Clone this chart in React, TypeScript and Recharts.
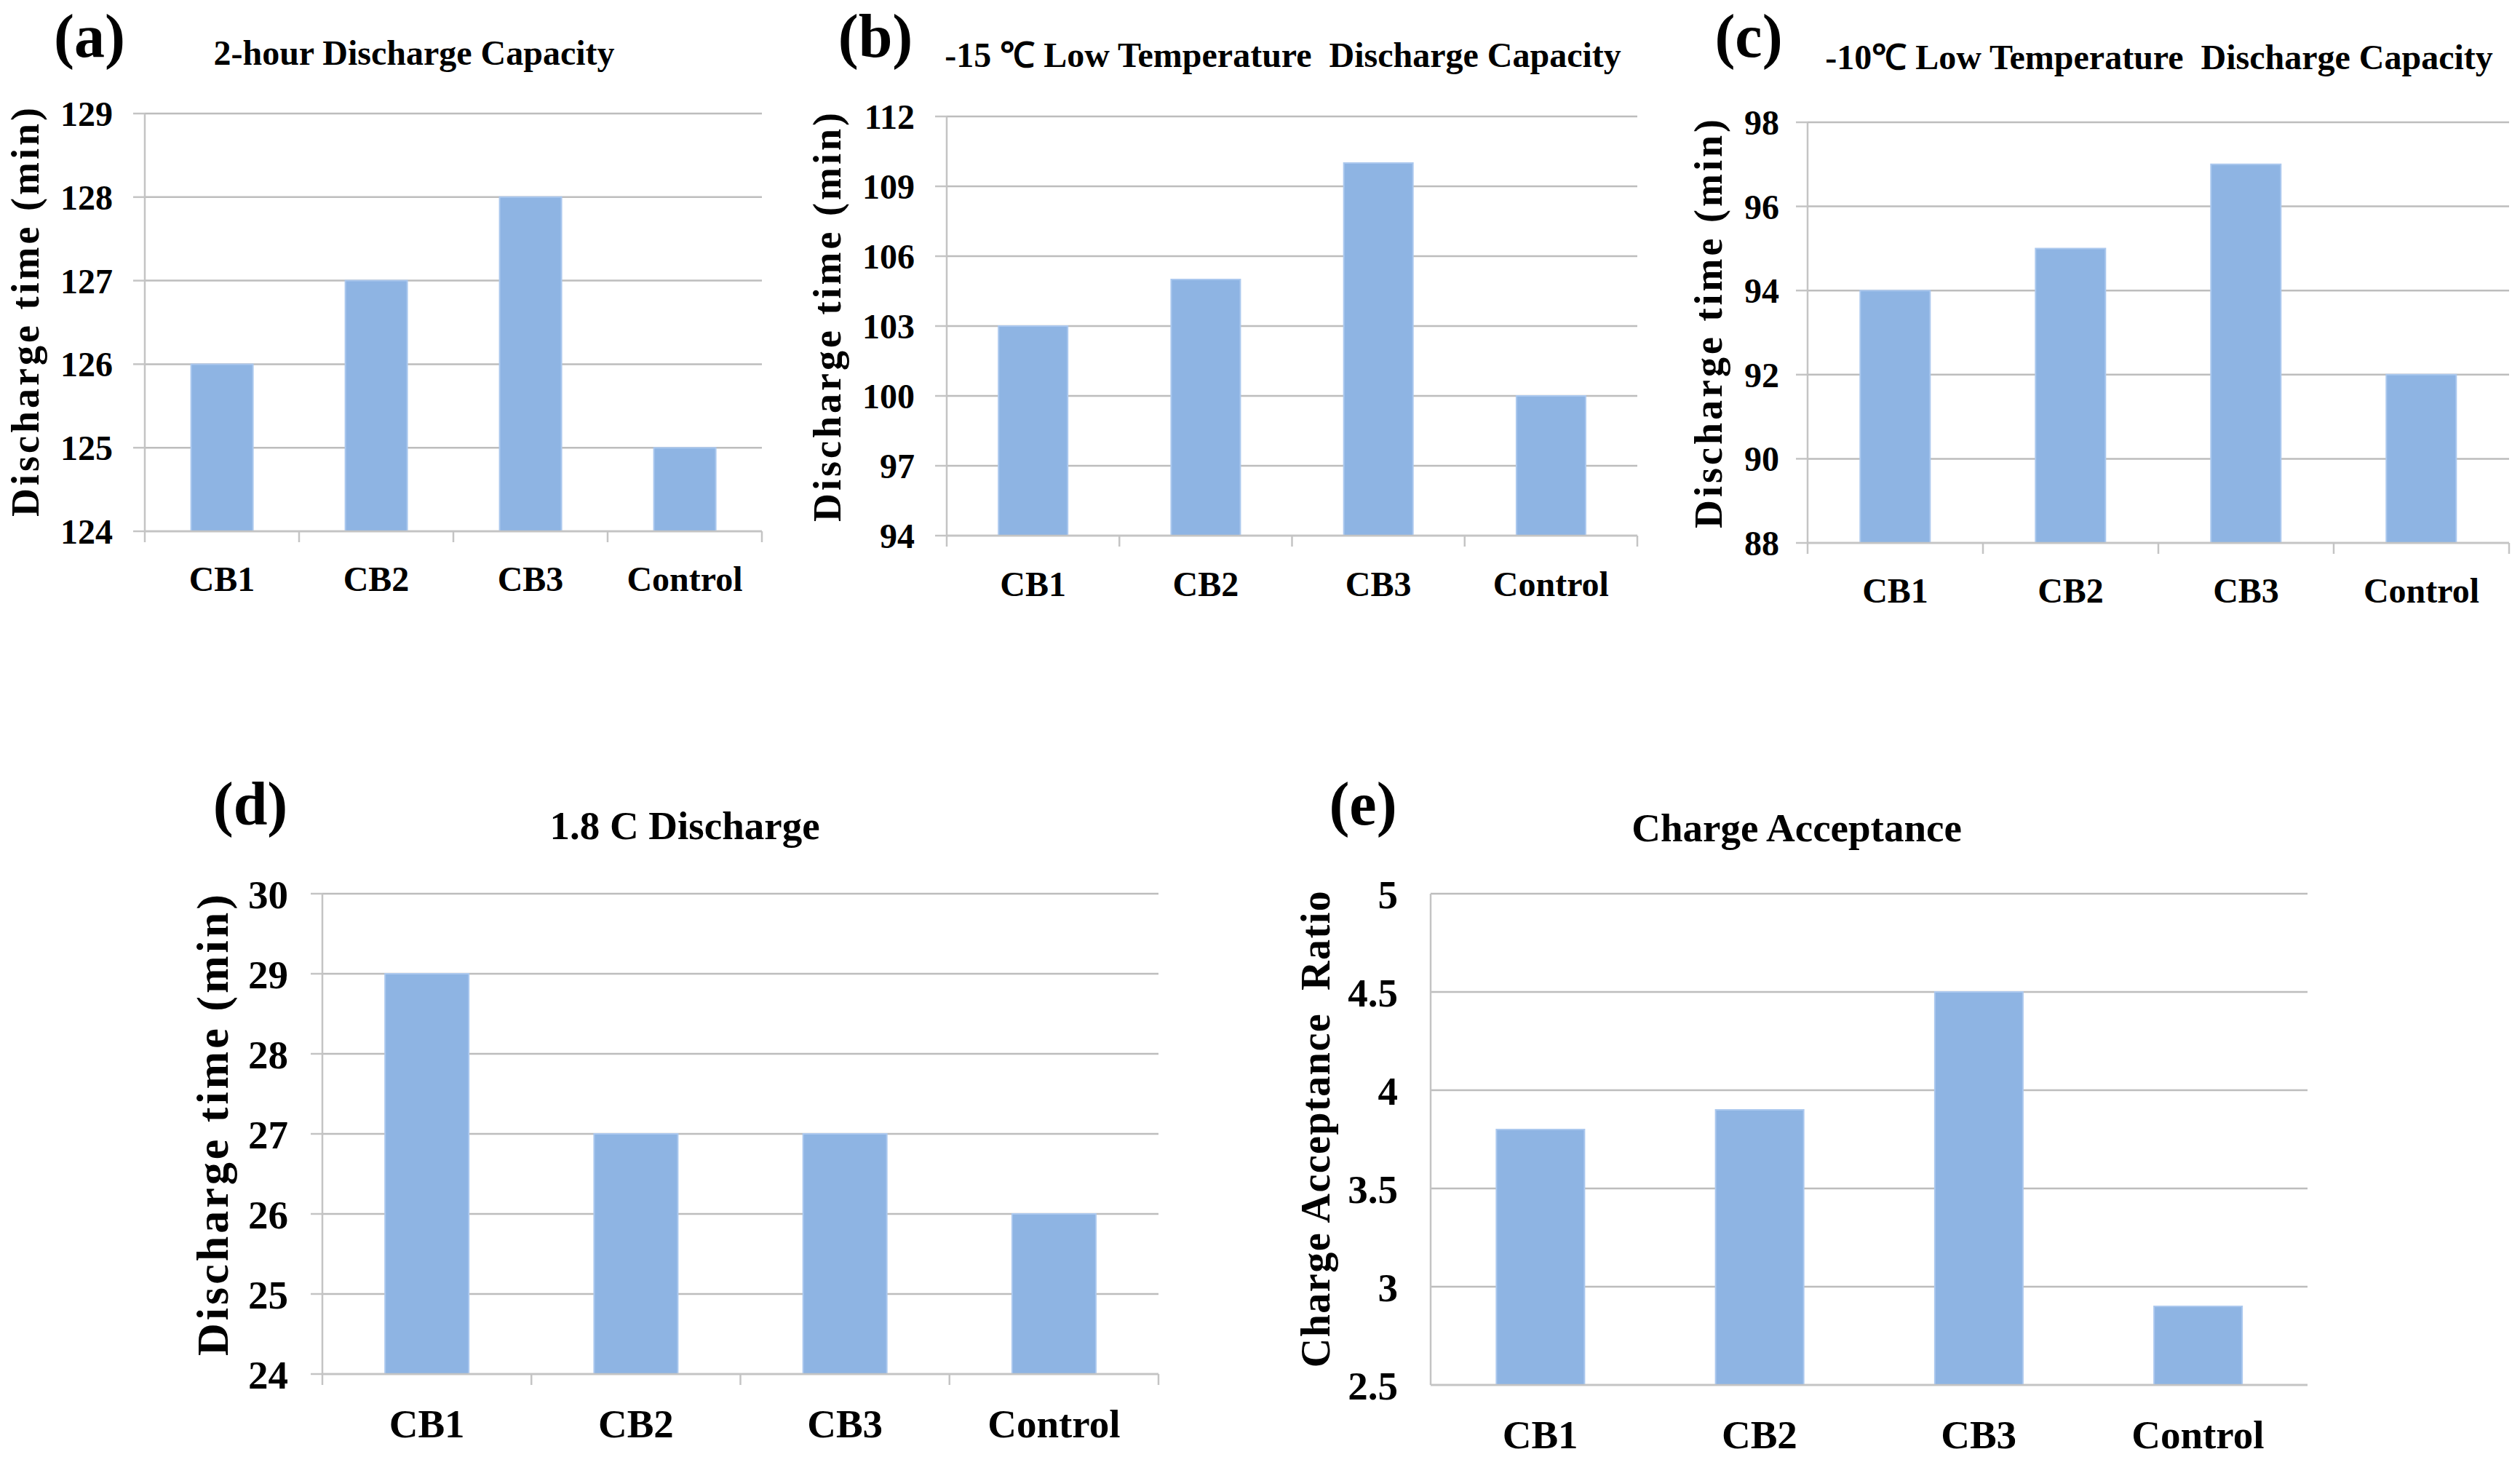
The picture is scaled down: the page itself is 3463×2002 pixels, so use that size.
import React from "react"
import { BarChart, Bar, XAxis, YAxis, CartesianGrid } from "recharts"

const categories = ["CB1", "CB2", "CB3", "Control"]

const capacity2h = [126, 127, 128, 125]
const lowTemp15 = [103, 105, 110, 100]
const lowTemp10 = [94, 95, 97, 92]
const discharge18C = [29, 27, 27, 26]
const chargeAcceptance = [3.8, 3.9, 4.5, 2.9]

const ticks2h = [124, 125, 126, 127, 128, 129]
const ticks15 = [94, 97, 100, 103, 106, 109, 112]
const ticks10 = [88, 90, 92, 94, 96, 98]
const ticks18C = [24, 25, 26, 27, 28, 29, 30]
const ticksCA = [2.5, 3, 3.5, 4, 4.5, 5]

const FONT = '"Liberation Serif", "Times New Roman", serif'
const BAR = "#8EB4E3"
const BAR_EDGE = "#ABC8EE"
const GRID = "#BDBDBD"
const AXIS = "#C4C4C4"

// layout of each panel (page pixels)
const panels = [
  {
    letter: "(a)", title: "2-hour Discharge Capacity", yLabel: "Discharge time (min)",
    values: capacity2h, ticks: ticks2h,
    l: 199, r: 1047, t: 156, b: 730,
    fs: 48, tickLen: 16, tickGap: 28, xDy: 82, boundary: true,
    titleX: 569, titleY: 89, titleFs: 48, letterX: 123, letterY: 78,
    yx: 35, yy: 427, yFs: 54, ySp: 4,
  },
  {
    letter: "(b)", title: "-15 \u2103 Low Temperature  Discharge Capacity", yLabel: "Discharge time (min)",
    values: lowTemp15, ticks: ticks15,
    l: 1301, r: 2250, t: 160, b: 736,
    fs: 48, tickLen: 16, tickGap: 28, xDy: 83, boundary: true,
    titleX: 1763, titleY: 92, titleFs: 48, letterX: 1203, letterY: 78,
    yx: 1137, yy: 434, yFs: 54, ySp: 4,
  },
  {
    letter: "(c)", title: "-10\u2103 Low Temperature  Discharge Capacity", yLabel: "Discharge time (min)",
    values: lowTemp10, ticks: ticks10,
    l: 2484, r: 3448, t: 168, b: 746,
    fs: 48, tickLen: 16, tickGap: 23, xDy: 82, boundary: true,
    titleX: 2967, titleY: 95, titleFs: 48, letterX: 2403, letterY: 78,
    yx: 2348, yy: 443, yFs: 54, ySp: 4,
  },
  {
    letter: "(d)", title: "1.8 C Discharge", yLabel: "Discharge time (min)",
    values: discharge18C, ticks: ticks18C,
    l: 443, r: 1592, t: 1228, b: 1888,
    fs: 55, tickLen: 16, tickGap: 31, xDy: 87, boundary: true,
    titleX: 941, titleY: 1153, titleFs: 55, letterX: 344, letterY: 1133,
    yx: 292, yy: 1544, yFs: 62, ySp: 4,
  },
  {
    letter: "(e)", title: "Charge Acceptance", yLabel: "Charge Acceptance  Ratio",
    values: chargeAcceptance, ticks: ticksCA,
    l: 1966, r: 3171, t: 1228, b: 1903,
    fs: 55, tickLen: 0, tickGap: 45, xDy: 87, boundary: false,
    titleX: 2469, titleY: 1156, titleFs: 55, letterX: 1873, letterY: 1133,
    yx: 1808, yy: 1551, yFs: 56, ySp: 1.5,
  },
]

function XTick(props: any) {
  const { x, y, payload, index, band, boundary, fs, dy, count } = props
  return (
    <g>
      {boundary && (
        <line x1={x - band / 2} x2={x - band / 2} y1={y} y2={y + 15} stroke={AXIS} strokeWidth={2.5} />
      )}
      {boundary && index === count - 1 && (
        <line x1={x + band / 2} x2={x + band / 2} y1={y} y2={y + 15} stroke={AXIS} strokeWidth={2.5} />
      )}
      <text x={x} y={y + dy} textAnchor="middle" fontSize={fs} fontWeight={700} fontFamily={FONT} fill="#000">
        {payload.value}
      </text>
    </g>
  )
}

function Panel({ p }: { p: any }) {
  const axisW = 150
  const left = p.l - axisW
  const top = p.t - 40
  const width = p.r - left + 20
  const xH = 120
  const height = p.b - top + xH
  const data = categories.map((name, i) => ({ name, v: p.values[i] }))
  const band = (p.r - p.l) / categories.length
  return (
    <div style={{ position: "absolute", left, top }}>
      <BarChart width={width} height={height} data={data} margin={{ top: 40, right: 20, left: 0, bottom: 0 }} barCategoryGap="30%">
        <CartesianGrid vertical={false} stroke={GRID} strokeWidth={2.5} />
        <XAxis
          dataKey="name"
          height={xH}
          stroke={AXIS}
          strokeWidth={2.5}
          tickLine={false}
          tickSize={0}
          tickMargin={0}
          interval={0}
          tick={<XTick band={band} boundary={p.boundary} fs={p.fs} dy={p.xDy} count={categories.length} />}
        />
        <YAxis
          width={axisW}
          domain={[p.ticks[0], p.ticks[p.ticks.length - 1]]}
          ticks={p.ticks}
          interval={0}
          stroke={AXIS}
          strokeWidth={2.5}
          tickLine={p.tickLen > 0}
          tickSize={p.tickLen}
          tickMargin={p.tickGap}
          tick={{ fontSize: p.fs, fontWeight: 700, fill: "#000", fontFamily: FONT }}
        />
        <Bar dataKey="v" fill={BAR} stroke={BAR_EDGE} strokeWidth={2} isAnimationActive={false} />
      </BarChart>
    </div>
  )
}

export default function App() {
  return (
    <div style={{ position: "absolute", left: 0, top: 0, width: 3463, height: 2002, background: "#fff", fontFamily: FONT }}>
      {panels.map((p) => (
        <Panel key={p.letter} p={p} />
      ))}
      <svg width={3463} height={2002} style={{ position: "absolute", left: 0, top: 0, pointerEvents: "none" }}>
        {panels.map((p) => (
          <g key={p.letter} fontFamily={FONT} fontWeight={700} fill="#000">
            <text x={p.letterX} y={p.letterY} textAnchor="middle" fontSize={84}>{p.letter}</text>
            <text x={p.titleX} y={p.titleY} textAnchor="middle" fontSize={p.titleFs} style={{ whiteSpace: "pre" }}>{p.title}</text>
            <text
              transform={`translate(${p.yx}, ${p.yy}) rotate(-90)`}
              textAnchor="middle"
              dominantBaseline="central"
              fontSize={p.yFs}
              letterSpacing={p.ySp}
              style={{ whiteSpace: "pre" }}
            >
              {p.yLabel}
            </text>
          </g>
        ))}
      </svg>
    </div>
  )
}
